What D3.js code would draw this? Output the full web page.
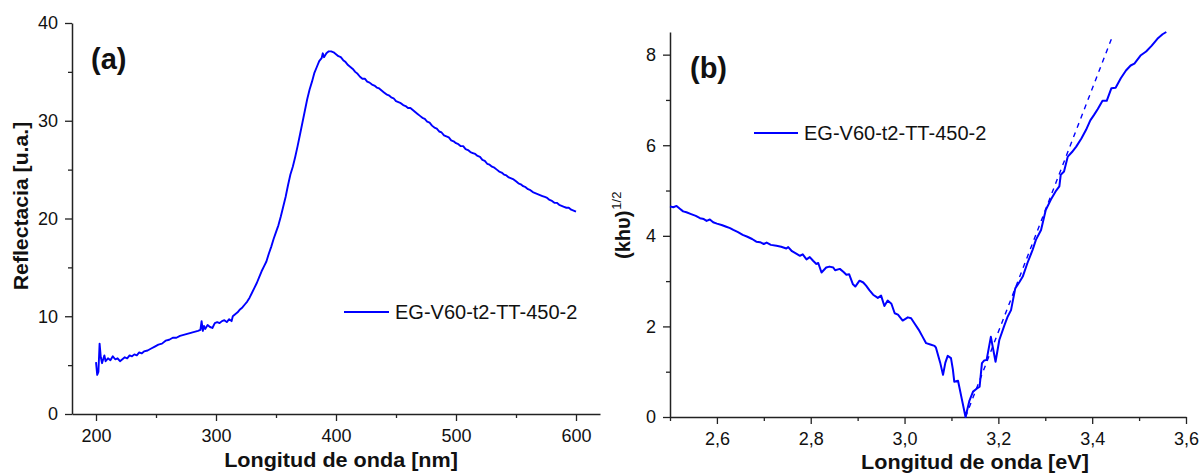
<!DOCTYPE html>
<html><head><meta charset="utf-8">
<script src="https://cdn.jsdelivr.net/npm/d3@7"></script>
<style>
body{margin:0;background:#fff;}
svg{display:block;}
text{font-family:Arial,"Liberation Sans",sans-serif;fill:#111;}
</style></head>
<body>
<svg id="c" width="1202" height="475"></svg>
<script>
// ---- Panel (a): reflectance vs wavelength ----
const wavelength = [200,201,202,203,204,205,206,207,208,210,212,214,216,218,220,222,224,226,228,230,232,234,236,238,240,243,246,249,252,255,258,261,264,267,270,273,276,279,282,285,287,288,289,290,291,293,295,297,299,301,303,305,307,309,311,313,314,316,318,320,322,324,326,328,330,332,334,336,338,340,342,344,346,348,350,352,354,356,358,360,362,364,366,368,370,372,374,376,378,380,382,384,386,388,389,390,392,394,396,398,400,402,404,406,408,410,412,414,416,418,420,422,424,426,428,430,432,434,436,438,440,442,444,446,448,450,452,454,456,458,460,462,464,466,468,470,472,474,476,478,480,482,484,486,488,490,492,494,496,498,500,502,504,506,508,510,512,514,516,518,520,522,524,526,528,530,532,534,536,538,540,542,544,546,548,550,552,554,556,558,560,562,564,566,568,570,572,574,576,578,580,582,584,586,588,590,592,594,596,598,600];
const reflectance = [5.3,4.0,4.3,7.2,5.8,5.2,5.6,6.0,5.4,5.7,5.5,5.9,5.6,5.7,5.4,5.6,5.8,5.7,6.0,5.9,6.1,6.0,6.3,6.2,6.4,6.5,6.7,6.9,7.1,7.2,7.5,7.6,7.8,7.8,8.0,8.1,8.2,8.3,8.4,8.5,8.6,9.5,8.5,9.0,8.7,9.1,8.9,8.8,9.3,9.4,9.3,9.5,9.6,9.4,9.7,9.5,10.0,10.2,10.4,10.7,10.9,11.2,11.5,11.9,12.4,12.9,13.4,14.0,14.6,15.1,15.6,16.4,17.1,17.9,18.6,19.3,20.2,21.2,22.2,23.4,24.5,25.3,26.3,27.4,28.6,29.8,31.0,32.2,33.2,34.0,34.9,35.5,36.1,36.4,36.9,36.5,36.9,37.1,37.1,37.0,36.8,36.6,36.5,36.2,36.0,35.7,35.5,35.3,35.0,34.8,34.5,34.3,34.3,34.0,33.9,33.7,33.6,33.4,33.3,33.1,32.9,32.7,32.6,32.4,32.3,32.0,31.9,31.8,31.6,31.5,31.3,31.3,31.1,30.9,30.7,30.5,30.3,30.2,29.9,29.8,29.5,29.3,29.2,28.9,28.8,28.5,28.4,28.3,28.0,27.9,27.7,27.6,27.4,27.4,27.1,27.0,26.8,26.7,26.6,26.4,26.3,26.0,25.9,25.6,25.5,25.3,25.2,25.0,24.8,24.7,24.5,24.4,24.2,24.1,24.0,23.8,23.6,23.5,23.3,23.2,23.0,22.9,22.7,22.6,22.5,22.4,22.3,22.2,22.1,21.9,21.8,21.6,21.6,21.4,21.3,21.2,21.1,21.1,20.9,20.8,20.7];
const xTicksA = [200,300,400,500,600];
const xMinorA = [250,350,450,550];
const yTicksA = [0,10,20,30,40];
const yMinorA = [5,15,25,35];

// ---- Panel (b): (khv)^1/2 vs energy ----
const energy = [2.500,2.507,2.514,2.521,2.528,2.535,2.545,2.555,2.564,2.572,2.578,2.585,2.592,2.600,2.610,2.620,2.628,2.635,2.645,2.655,2.665,2.675,2.684,2.692,2.700,2.706,2.715,2.727,2.737,2.748,2.752,2.760,2.770,2.777,2.783,2.791,2.798,2.805,2.812,2.816,2.823,2.833,2.840,2.848,2.852,2.862,2.870,2.876,2.882,2.890,2.895,2.904,2.912,2.918,2.925,2.933,2.943,2.950,2.957,2.964,2.972,2.979,2.986,2.996,3.007,3.014,3.021,3.030,3.038,3.046,3.055,3.064,3.067,3.076,3.082,3.087,3.092,3.099,3.103,3.106,3.114,3.122,3.130,3.138,3.146,3.153,3.160,3.165,3.170,3.175,3.184,3.194,3.202,3.213,3.220,3.227,3.236,3.245,3.252,3.262,3.273,3.280,3.291,3.301,3.312,3.322,3.330,3.333,3.340,3.348,3.357,3.366,3.377,3.387,3.396,3.404,3.412,3.422,3.431,3.441,3.450,3.461,3.472,3.482,3.490,3.503,3.515,3.527,3.539,3.550,3.558];
const khv = [4.65,4.63,4.66,4.60,4.54,4.52,4.48,4.44,4.39,4.37,4.33,4.36,4.30,4.27,4.24,4.20,4.17,4.13,4.08,4.02,3.98,3.93,3.87,3.86,3.82,3.85,3.80,3.78,3.76,3.72,3.75,3.66,3.60,3.56,3.59,3.48,3.53,3.45,3.38,3.40,3.19,3.30,3.32,3.30,3.24,3.27,3.20,3.14,3.15,2.93,2.88,3.01,2.97,2.90,2.80,2.70,2.63,2.68,2.45,2.57,2.50,2.29,2.26,2.13,2.20,2.18,2.07,1.93,1.78,1.63,1.60,1.57,1.53,1.20,0.93,1.20,1.35,1.30,1.05,0.78,0.80,0.40,0.00,0.35,0.56,0.62,0.67,1.19,1.25,1.26,1.77,1.22,1.70,2.03,2.22,2.36,2.84,2.98,3.10,3.40,3.69,3.91,4.13,4.57,4.80,4.98,5.09,5.35,5.42,5.75,5.85,5.97,6.15,6.34,6.55,6.67,6.80,6.98,6.98,7.26,7.27,7.48,7.65,7.76,7.80,7.98,8.07,8.20,8.35,8.45,8.50];
const fitEnergy = [3.130, 3.443];
const fitKhv = [0, 8.40];
const xTicksB = [2.6,2.8,3.0,3.2,3.4,3.6];
const xMinorB = [2.5,2.7,2.9,3.1,3.3,3.5];
const yTicksB = [0,2,4,6,8];
const yMinorB = [1,3,5,7];

const seriesName = "EG-V60-t2-TT-450-2";
const blue = "#0000ff";
const axisColor = "#222";

const svg = d3.select("#c");

function drawAxes(x, y, xt, xm, yt, ym, fmt, yFmt){
  const [x0] = x.range(); const [y0] = y.range();
  const gx = svg.append("g").attr("transform",`translate(0,${y0})`)
    .call(d3.axisBottom(x).tickValues(xt).tickSize(7).tickPadding(8).tickSizeOuter(0).tickFormat(fmt));
  svg.append("g").attr("transform",`translate(0,${y0})`)
    .call(d3.axisBottom(x).tickValues(xm).tickSize(4).tickFormat("")).select(".domain").remove();
  const gy = svg.append("g").attr("transform",`translate(${x0},0)`)
    .call(d3.axisLeft(y).tickValues(yt).tickSize(7).tickPadding(7).tickSizeOuter(0).tickFormat(yFmt));
  svg.append("g").attr("transform",`translate(${x0},0)`)
    .call(d3.axisLeft(y).tickValues(ym).tickSize(4).tickFormat("")).select(".domain").remove();
  svg.selectAll(".domain").attr("stroke",axisColor).attr("stroke-width",1.5);
  svg.selectAll(".tick line").attr("stroke",axisColor).attr("stroke-width",1.3);
  [gx,gy].forEach(g=>g.selectAll("text").attr("font-size",18).attr("font-family","Arial, 'Liberation Sans', sans-serif").attr("fill","#111"));
}

// Panel a
const xa = d3.scaleLinear([180,620],[72,600]);
const ya = d3.scaleLinear([0,40],[414,23]);
drawAxes(xa, ya, xTicksA, xMinorA, yTicksA, yMinorA, d3.format("d"), d3.format("d"));
svg.append("path")
  .attr("d", d3.line().x((d,i)=>xa(wavelength[i])).y(d=>ya(d))(reflectance))
  .attr("fill","none").attr("stroke",blue).attr("stroke-width",1.9).attr("stroke-linejoin","round");

// Panel b
const xb = d3.scaleLinear([2.5,3.6],[670,1186]);
const yb = d3.scaleLinear([0,8.5],[417,32]);
const comma = d => d.toFixed(1).replace(".",",");
drawAxes(xb, yb, xTicksB, xMinorB, yTicksB, yMinorB, comma, d3.format("d"));
svg.append("path")
  .attr("d", d3.line().x((d,i)=>xb(energy[i])).y(d=>yb(d))(khv))
  .attr("fill","none").attr("stroke",blue).attr("stroke-width",2).attr("stroke-linejoin","round");
svg.append("path")
  .attr("d", d3.line().x((d,i)=>xb(fitEnergy[i])).y(d=>yb(d))(fitKhv))
  .attr("fill","none").attr("stroke",blue).attr("stroke-width",1.4).attr("stroke-dasharray","5,5");

// Titles
function title(x,y,txt,rot){
  const t = svg.append("text").attr("font-size",20).attr("font-weight","bold").attr("text-anchor","middle")
    .attr("transform",`translate(${x},${y})${rot?" rotate(-90)":""} scale(1.08,1)`).text(txt);
  return t;
}
title(341,467,"Longitud de onda [nm]");
title(975,469,"Longitud de onda [eV]");
svg.append("text").attr("font-size",20).attr("font-weight","bold").attr("text-anchor","middle")
  .attr("transform","translate(28,206) rotate(-90) scale(1.06,1)").text("Reflectacia [u.a.]");
const yl = svg.append("text").attr("font-size",20).attr("font-weight","bold")
  .attr("transform","translate(630,259) rotate(-90)");
yl.append("tspan").text("(khυ)");
yl.append("tspan").attr("font-size",13).attr("dy",-9).attr("dx",1).attr("font-weight","normal").text("1/2");

// Panel labels
svg.append("text").attr("x",91).attr("y",69).attr("font-family","Lato, 'Open Sans', sans-serif")
  .attr("font-weight","bold").attr("font-size",29).text("(a)");
svg.append("text").attr("x",690).attr("y",78).attr("font-family","Lato, 'Open Sans', sans-serif")
  .attr("font-weight","bold").attr("font-size",29).text("(b)");

// Legends
function legend(x1,x2,y){
  svg.append("line").attr("x1",x1).attr("x2",x2).attr("y1",y).attr("y2",y).attr("stroke",blue).attr("stroke-width",2);
  svg.append("text").attr("x",x2+6).attr("y",y).attr("dy","0.36em").attr("font-size",20).text(seriesName);
}
legend(344,389,312);
legend(754,798,133);
</script>
</body></html>
